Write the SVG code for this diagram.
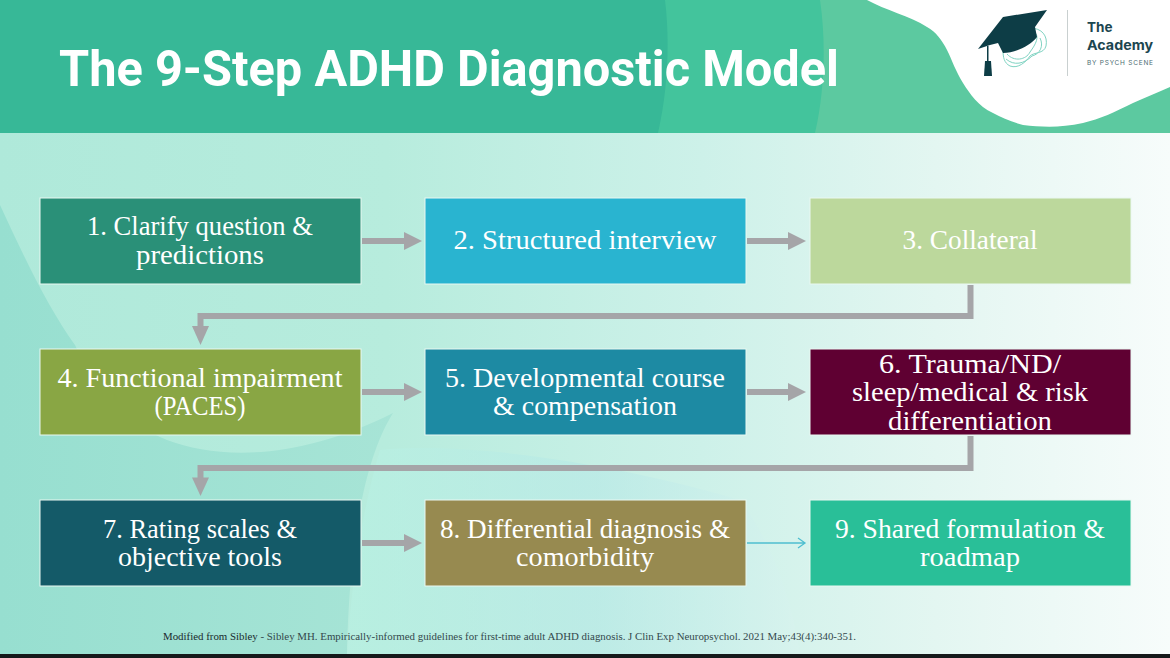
<svg xmlns="http://www.w3.org/2000/svg" width="1170" height="658" viewBox="0 0 1170 658">
<style>
.box{stroke:#e9f8f1;stroke-width:1}
.t{font-family:"Liberation Serif","DejaVu Serif",serif;font-size:27px;fill:#fff;text-anchor:middle}
.c{fill:none;stroke:#a5a5a8;stroke-width:6}
.h{fill:#a5a5a8}
</style>
<defs>
<linearGradient id="bg" x1="0" y1="0" x2="1" y2="0">
<stop offset="0" stop-color="#afe9da"/><stop offset="0.33" stop-color="#b7ecdd"/><stop offset="0.6" stop-color="#cdf1e9"/><stop offset="0.8" stop-color="#e3f6f1"/><stop offset="1" stop-color="#f7fcfb"/>
</linearGradient>
<linearGradient id="left" x1="0" y1="0" x2="1" y2="0">
<stop offset="0" stop-color="#97dfd0"/><stop offset="1" stop-color="#a7e4d6"/>
</linearGradient>
<linearGradient id="low" x1="0" y1="0" x2="1" y2="0">
<stop offset="0" stop-color="#b9f1e3"/><stop offset="0.55" stop-color="#b6e8e6"/><stop offset="1" stop-color="#d8f3ee"/>
</linearGradient>
</defs>
<rect id="background" width="1170" height="658" fill="url(#bg)"/>
<path d="M380 450C365 500 352 570 347 654H800C790 590 770 540 740 500C640 470 480 440 380 450Z" fill="url(#low)" opacity=".6"/>
<path d="M0 205C30 270 50 310 75 345C100 400 130 425 167 440C220 460 300 460 393 413C370 450 350 520 347 654H0Z" fill="url(#left)"/>
<rect id="header" width="1170" height="133" fill="#37b897"/>
<path d="M665 0H1170V133H658C668 90 670 40 665 0Z" fill="#43c49c"/>
<path d="M820 0H1170V133H815C825 90 826 40 820 0Z" fill="#5cc9a0"/>
<path d="M867 0H1170V87C1158 92 1145 98 1133 103C1115 112 1100 119 1083 123C1060 128 1042 127 1023 125C1012 122 1002 118 993 113C978 106 970 94 963 83C956 72 952 60 947 50C942 40 936 32 927 27C910 16 885 10 867 0Z" fill="#fff"/>
<text x="59" y="86" font-family="Roboto,'Liberation Sans',sans-serif" font-size="50" font-weight="700" fill="#fff" textLength="780" lengthAdjust="spacingAndGlyphs">The 9-Step ADHD Diagnostic Model</text>
<g id="logo">
<g fill="none" stroke="#7fd3c2" stroke-width="1">
<path d="M1003 50C1000 38 1015 28 1030 28C1042 28 1048 36 1046 46C1044 54 1034 52 1030 56C1026 62 1018 69 1010 66C1004 63 1003 57 1003 50Z"/>
<path d="M1007 54C1014 62 1026 60 1030 52C1036 44 1040 36 1034 32"/>
<path d="M1006 59C1014 66 1024 64 1032 56C1040 54 1044 46 1040 38"/>
</g>
<path d="M978 49L1003 17L1047 10L1035 27L1037 37C1030 46 1015 53 1003 53L998 43L990 45Z" fill="#0d3d46"/>
<rect x="987" y="46" width="1.5" height="16" fill="#0d3d46"/>
<path d="M985 61H991L992 76H984Z" fill="#0d3d46"/>
<rect x="1067" y="10" width="1" height="66" fill="#c9d0d0"/>
<text x="1087" y="32" font-family="Inter,'Liberation Sans',sans-serif" font-size="13.5" font-weight="700" fill="#1c4650">The</text>
<text x="1087" y="50" font-family="Inter,'Liberation Sans',sans-serif" font-size="13.5" font-weight="700" fill="#1c4650" textLength="66" lengthAdjust="spacingAndGlyphs">Academy</text>
<text x="1087" y="65" font-family="Inter,'Liberation Sans',sans-serif" font-size="6.5" fill="#4d6c72" textLength="66" lengthAdjust="spacing">BY PSYCH SCENE</text>
</g>
<g id="connectors">
<path class="c" d="M362 241H405"/><path class="h" d="M404 232L422 241L404 250Z"/>
<path class="c" d="M747 241H789"/><path class="h" d="M788 232L806 241L788 250Z"/>
<path class="c" d="M970.5 285V316H200.500V327"/><path class="h" d="M192 326H209L200.500 345Z"/>
<path class="c" d="M362 392H405"/><path class="h" d="M404 383L422 392L404 401Z"/>
<path class="c" d="M747 392H789"/><path class="h" d="M788 383L806 392L788 401Z"/>
<path class="c" d="M970.5 436V468H200.500V478"/><path class="h" d="M192 477.500H209L200.500 496Z"/>
<path class="c" d="M362 543H405"/><path class="h" d="M404 534L422 543L404 552Z"/>
<path d="M747 543H805M798 538L805 543L798 548" fill="none" stroke="#4fbfd0" stroke-width="1.3"/>
</g>
<g id="n1"><rect class="box" x="40" y="198" width="321" height="86" fill="#2a9078"/><text class="t" x="200" y="235" textLength="226" lengthAdjust="spacingAndGlyphs">1. Clarify question &amp;</text><text class="t" x="200" y="264" textLength="128" lengthAdjust="spacingAndGlyphs">predictions</text></g>
<g id="n2"><rect class="box" x="425" y="198" width="321" height="86" fill="#29b4d0"/><text class="t" x="585" y="249" textLength="263" lengthAdjust="spacingAndGlyphs">2. Structured interview</text></g>
<g id="n3"><rect class="box" x="810" y="198" width="321" height="86" fill="#bcd89c"/><text class="t" x="970" y="249" textLength="135" lengthAdjust="spacingAndGlyphs">3. Collateral</text></g>
<g id="n4"><rect class="box" x="40" y="349" width="321" height="86" fill="#89a644"/><text class="t" x="200" y="387" textLength="285" lengthAdjust="spacingAndGlyphs">4. Functional impairment</text><text class="t" x="200" y="415" textLength="91" lengthAdjust="spacingAndGlyphs">(PACES)</text></g>
<g id="n5"><rect class="box" x="425" y="349" width="321" height="86" fill="#1d8aa3"/><text class="t" x="585" y="387" textLength="280" lengthAdjust="spacingAndGlyphs">5. Developmental course</text><text class="t" x="585" y="415" textLength="184" lengthAdjust="spacingAndGlyphs">&amp; compensation</text></g>
<g id="n6"><rect class="box" x="810" y="349" width="321" height="86" fill="#5f0032"/><text class="t" x="970" y="373" textLength="182" lengthAdjust="spacingAndGlyphs">6. Trauma/ND/</text><text class="t" x="970" y="401" textLength="236" lengthAdjust="spacingAndGlyphs">sleep/medical &amp; risk</text><text class="t" x="970" y="430" textLength="164" lengthAdjust="spacingAndGlyphs">differentiation</text></g>
<g id="n7"><rect class="box" x="40" y="500" width="321" height="86" fill="#145a68"/><text class="t" x="200" y="538" textLength="194" lengthAdjust="spacingAndGlyphs">7. Rating scales &amp;</text><text class="t" x="200" y="566" textLength="164" lengthAdjust="spacingAndGlyphs">objective tools</text></g>
<g id="n8"><rect class="box" x="425" y="500" width="321" height="86" fill="#978a50"/><text class="t" x="585" y="538" textLength="290" lengthAdjust="spacingAndGlyphs">8. Differential diagnosis &amp;</text><text class="t" x="585" y="566" textLength="138" lengthAdjust="spacingAndGlyphs">comorbidity</text></g>
<g id="n9"><rect class="box" x="810" y="500" width="321" height="86" fill="#29bf98"/><text class="t" x="970" y="538" textLength="270" lengthAdjust="spacingAndGlyphs">9. Shared formulation &amp;</text><text class="t" x="970" y="566" textLength="100" lengthAdjust="spacingAndGlyphs">roadmap</text></g>
<text x="163" y="640" font-family="'Liberation Serif',serif" font-size="10.500" fill="#33484c" textLength="693" lengthAdjust="spacingAndGlyphs"><tspan fill="#1a2a2d">Modified from Sibley</tspan> - Sibley MH. Empirically-informed guidelines for first-time adult ADHD diagnosis. J Clin Exp Neuropsychol. 2021 May;43(4):340-351.</text>
<rect id="bottom-bar" y="654" width="1170" height="4" fill="#15191a"/>
</svg>
